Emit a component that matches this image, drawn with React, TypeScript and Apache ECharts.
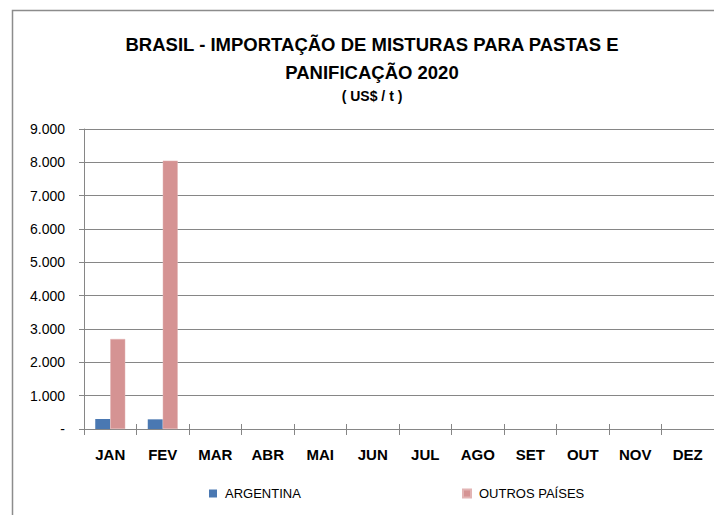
import React, { useEffect, useRef } from "react";
import * as echarts from "echarts";

const categories = ["JAN", "FEV", "MAR", "ABR", "MAI", "JUN", "JUL", "AGO", "SET", "OUT", "NOV", "DEZ"];
const argentina: (number | null)[] = [300, 290, null, null, null, null, null, null, null, null, null, null];
const outrosPaises: (number | null)[] = [2700, 8050, null, null, null, null, null, null, null, null, null, null];
const seriesNames = ["ARGENTINA", "OUTROS PAÍSES"];
const titleLines = ["BRASIL - IMPORTAÇÃO DE MISTURAS PARA PASTAS E", "PANIFICAÇÃO 2020", "( US$ / t )"];

const FONT = "'Liberation Sans', Arial, sans-serif";
const GRAY = "#868686";

function fmt(v: number): string {
  if (v === 0) return "-";
  return String(v).replace(/\B(?=(\d{3})+(?!\d))/g, ".");
}

export default function App() {
  const ref = useRef<HTMLDivElement>(null);
  useEffect(() => {
    if (!ref.current) return;
    const chart = echarts.init(ref.current, null, { renderer: "svg" });
    chart.setOption({
      animation: false,
      backgroundColor: "#ffffff",
      graphic: [
        {
          type: "rect",
          shape: { x: 12.5, y: 10.5, width: 760, height: 560 },
          style: { fill: "none", stroke: "#8c8c8c", lineWidth: 1.5 },
          silent: true,
          z: -1,
        },
        {
          type: "text",
          x: 372,
          y: 44,
          style: { text: titleLines[0], font: `bold 18.5px ${FONT}`, fill: "#000", textAlign: "center", textVerticalAlign: "middle" },
        },
        {
          type: "text",
          x: 372,
          y: 72,
          style: { text: titleLines[1], font: `bold 18.5px ${FONT}`, fill: "#000", textAlign: "center", textVerticalAlign: "middle" },
        },
        {
          type: "text",
          x: 372,
          y: 96,
          style: { text: titleLines[2], font: `bold 14px ${FONT}`, fill: "#000", textAlign: "center", textVerticalAlign: "middle" },
        },
      ],
      legend: [
        {
          data: [seriesNames[0]],
          left: 209,
          top: 487,
          padding: 0,
          icon: "rect",
          itemWidth: 8,
          itemHeight: 8,
          textStyle: { fontFamily: FONT, fontSize: 13, color: "#000", padding: [0, 0, 0, 3] },
        },
        {
          data: [seriesNames[1]],
          left: 462,
          top: 487,
          padding: 0,
          icon: "rect",
          itemWidth: 8,
          itemHeight: 8,
          textStyle: { fontFamily: FONT, fontSize: 13, color: "#000", padding: [0, 0, 0, 3] },
        },
      ],
      grid: { left: 84, top: 129, width: 630, height: 300, containLabel: false },
      xAxis: [
        {
          type: "category",
          data: categories,
          axisLine: { show: true, lineStyle: { color: GRAY, width: 1 } },
          axisTick: { show: true, length: 6, lineStyle: { color: GRAY } },
          axisLabel: { fontFamily: FONT, fontSize: 15, fontWeight: "bold", color: "#000", margin: 18, interval: 0 },
        },
        {
          type: "category",
          data: categories,
          position: "bottom",
          axisLine: { show: false },
          axisTick: { show: true, inside: true, length: 5, lineStyle: { color: GRAY } },
          axisLabel: { show: false },
        },
      ],
      yAxis: {
        type: "value",
        min: 0,
        max: 9000,
        interval: 1000,
        axisLine: { show: true, lineStyle: { color: GRAY, width: 1 } },
        axisTick: { show: true, length: 5, lineStyle: { color: GRAY } },
        splitLine: { show: true, lineStyle: { color: GRAY, width: 1 } },
        axisLabel: { fontFamily: FONT, fontSize: 14, color: "#000", margin: 19, formatter: fmt },
      },
      series: [
        {
          name: seriesNames[0],
          type: "bar",
          data: argentina,
          barWidth: 15,
          barGap: "0%",
          itemStyle: { color: "#4a78b2" },
        },
        {
          name: seriesNames[1],
          type: "bar",
          data: outrosPaises,
          barWidth: 15,
          barGap: "0%",
          itemStyle: { color: "#d59393", borderColor: "#e2b4b4", borderWidth: 0.5 },
        },
      ],
    });
    return () => chart.dispose();
  }, []);
  return <div ref={ref} style={{ position: "absolute", left: 0, top: 0, width: 714, height: 515 }} />;
}
